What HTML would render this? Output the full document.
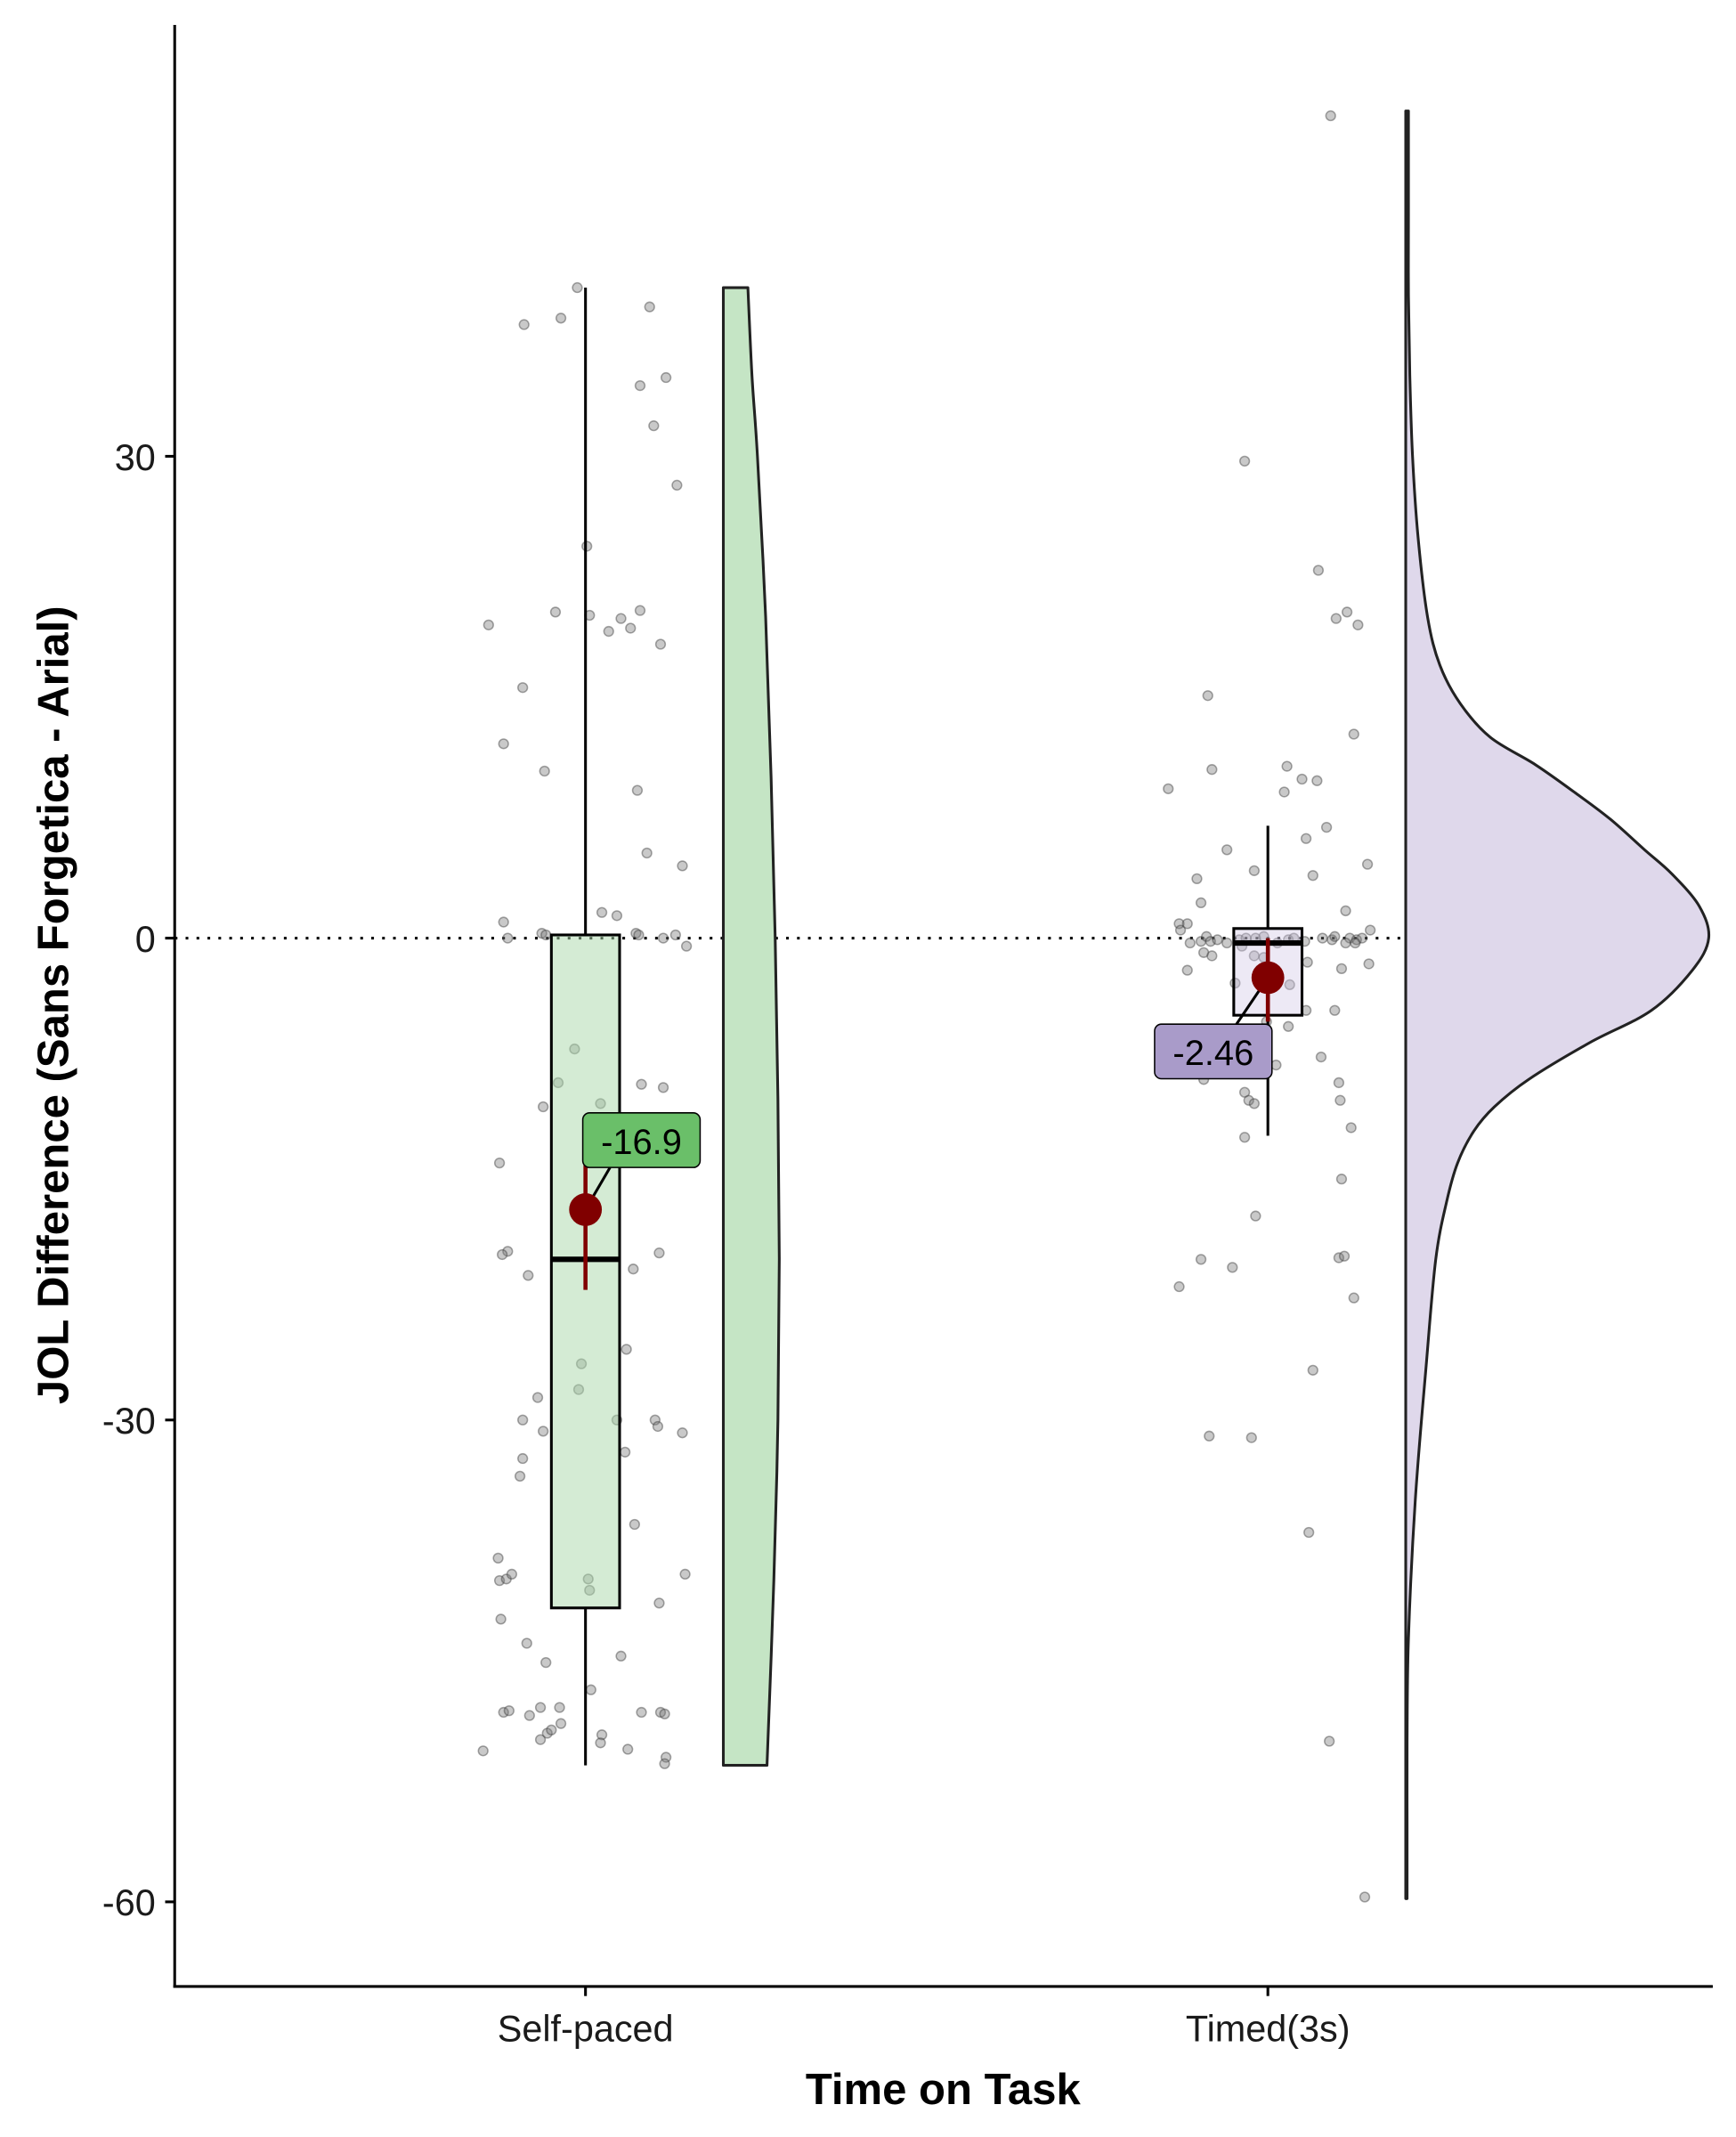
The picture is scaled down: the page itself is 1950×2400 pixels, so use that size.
<!DOCTYPE html>
<html><head><meta charset="utf-8"><style>
html,body{margin:0;padding:0;background:#fff}
svg{display:block}
text{font-family:"Liberation Sans",Arial,sans-serif}
</style></head><body>
<svg id="chart" width="1950" height="2400" viewBox="0 0 1272 1565" xmlns="http://www.w3.org/2000/svg">
<g id="g"></g>
</svg>
<script>
const categories = ["Self-paced","Timed(3s)"];
const yTicks = [30,0,-30,-60];
const spJitter = [-6,-45,-18,47,40,59,50,67,1,-71,-22,3,40,26,17,33,55,-46,-60,-30,38,45,71,-60,-57,-32,-29,12,23,37,39,57,66,74,-8,-20,-31,11,41,57,-63,-57,-61,-42,35,54,30,-3,-5,-35,-46,-31,23,29,51,53,71,-46,-48,36,-64,-63,-58,-54,2,3,73,-62,-43,-29,26,54,4,-60,-56,-33,-19,-41,55,58,41,-18,-28,-33,-25,12,11,31,59,58,-75];
const spValues = [40.5,38.2,38.6,39.3,34.4,34.9,31.9,28.2,24.4,19.5,20.3,20.1,20.4,19.9,19.1,19.3,18.3,15.6,12.1,10.4,9.2,5.3,4.5,1.0,0,0.3,0.2,1.6,1.4,0.3,0.2,0,0.2,-0.5,-6.9,-9.0,-10.5,-10.3,-9.1,-9.3,-14.0,-19.5,-19.7,-21.0,-20.6,-19.6,-25.6,-26.5,-28.1,-28.6,-30.0,-30.7,-30.0,-32.0,-30.0,-30.4,-30.8,-32.4,-33.5,-36.5,-38.6,-40.0,-39.9,-39.6,-39.9,-40.6,-39.6,-42.4,-43.9,-45.1,-44.7,-41.4,-46.8,-48.2,-48.1,-47.9,-47.9,-48.4,-48.2,-48.3,-48.2,-48.9,-49.5,-49.9,-49.3,-49.6,-50.1,-50.5,-51.0,-51.4,-50.6];
const tJitter = [46,-17,37,58,50,66,-44,-41,63,14,36,25,12,-73,43,-30,28,-52,-10,33,73,-49,-65,-64,-59,57,75,-57,-49,-45,-42,-37,-30,-21,-16,-9,-3,7,15,19,27,40,47,49,60,65,69,57,64,-47,-41,-19,-10,-3,-59,-24,16,29,54,74,-1,15,49,28,6,39,52,53,61,-47,-17,-14,-10,-17,54,-9,-49,-26,-65,52,56,63,33,-43,-12,30,45,71];
const tValues = [51.2,29.7,22.9,20.3,19.9,19.5,15.1,10.5,12.7,10.7,9.8,9.9,9.1,9.3,6.9,5.5,6.2,3.7,4.2,3.9,4.6,2.2,0.9,0.5,0.9,1.7,0.5,-0.3,-0.2,0.1,-0.2,-0.1,-0.3,-0.1,0,0,0.1,-0.3,-0.1,0,-0.2,0,-0.1,0.1,0,-0.1,0,-0.3,-0.3,-0.9,-1.1,-0.5,-1.1,-1.2,-2.0,-2.8,-2.9,-1.5,-1.9,-1.6,-5.2,-5.5,-4.5,-4.5,-7.9,-7.4,-9.0,-10.1,-11.8,-8.8,-9.6,-10.1,-10.3,-12.4,-15.0,-17.3,-20.0,-20.5,-21.7,-19.9,-19.8,-22.4,-26.9,-31.0,-31.1,-37.0,-50.0,-59.7];
const spBox = [-51.5,-41.7,-20.0,0.2,40.5];
const tBox = [-12.3,-4.8,-0.3,0.6,7.0];
const means = [-16.9,-2.46];
const ciLow = [-21.9,-5.2];
const ciHigh = [-14.1,0.0];
const meanLabels = ["-16.9","-2.46"];
const spViolinV = [40.5,35,30,20,10,0,-10,-20,-30,-40,-51.5];
const spViolinW = [18,21,25,31,35,38,40,41,40,37,32];
const tViolinV = [51.5,45,40,35,30,25,20,17,14.6,12.5,10.8,9,7.4,5.5,4,2,0,-2,-4.5,-6.5,-8.8,-10.5,-12,-14,-16.4,-20,-26.6,-35,-43.6,-50,-55,-59.8];
const tViolinW = [2,2,2,3,5,9,16,25,40,62,95,125,150,175,195,215,222,210,180,135,90,65,50,38,30,22,15,7,2,1,1,1];

const NS="http://www.w3.org/2000/svg";
const g=document.getElementById('g');
const y=v=>687 - v*353/30;
const catX=[429,929];
function mk(tag,attrs,parent){const e=document.createElementNS(NS,tag);for(const k in attrs)e.setAttribute(k,attrs[k]);(parent||g).appendChild(e);return e;}

let e=mk('line',{x1:128,x2:1255,y1:y(0),y2:y(0),stroke:'#000','stroke-width':2,'stroke-dasharray':'2,6'});



function violin(cx,vs,ws,fill,name){
  const P=vs.map((v,i)=>[cx+ws[i],y(v)]);
  let d='M'+cx+','+P[0][1]+' L'+P[0][0]+','+P[0][1];
  for(let i=0;i<P.length-1;i++){
    const p0=P[Math.max(0,i-1)],p1=P[i],p2=P[i+1],p3=P[Math.min(P.length-1,i+2)];
    const c1=[p1[0]+(p2[0]-p0[0])/6,p1[1]+(p2[1]-p0[1])/6];
    const c2=[p2[0]-(p3[0]-p1[0])/6,p2[1]-(p3[1]-p1[1])/6];
    d+=' C'+c1[0]+','+c1[1]+' '+c2[0]+','+c2[1]+' '+p2[0]+','+p2[1];
  }
  d+=' L'+cx+','+P[P.length-1][1]+' Z';
  const p=mk('path',{d:d,fill:fill,stroke:'#222','stroke-width':2,'stroke-linejoin':'round'});
  
  
}
violin(530,spViolinV,spViolinW,'#c5e5c5','violin-self-paced');
violin(1030,tViolinV,tViolinW,'#dfd8eb','violin-timed');

function pts(cx,dx,vals,name){
  for(let i=0;i<vals.length;i++){
    const c=mk('circle',{cx:cx+dx[i],cy:y(vals[i]),r:3.5,fill:'rgba(120,120,120,0.4)',stroke:'rgba(60,60,60,0.45)','stroke-width':1});
    
    
  }
}
pts(catX[0],spJitter,spValues,'point-self-paced');
pts(catX[1],tJitter,tValues,'point-timed');

function box(cx,b,fill,name){
  const gg=mk('g',{});
  
  
  mk('line',{x1:cx,x2:cx,y1:y(b[0]),y2:y(b[1]),stroke:'#000','stroke-width':2},gg);
  mk('line',{x1:cx,x2:cx,y1:y(b[3]),y2:y(b[4]),stroke:'#000','stroke-width':2},gg);
  mk('rect',{x:cx-25,y:y(b[3]),width:50,height:y(b[1])-y(b[3]),fill:fill,stroke:'#000','stroke-width':2},gg);
  mk('line',{x1:cx-25,x2:cx+25,y1:y(b[2]),y2:y(b[2]),stroke:'#000','stroke-width':4},gg);
}
box(catX[0],spBox,'rgba(170,215,170,0.5)','boxplot-self-paced');
box(catX[1],tBox,'rgba(210,200,230,0.4)','boxplot-timed');

const lblPos=[[427,815],[846,750]];
const lblFill=['#6abf69','#a99bc9'];
for(let i=0;i<2;i++){
  const cx=catX[i];
  let l=mk('line',{x1:cx,x2:cx,y1:y(ciLow[i]),y2:y(ciHigh[i]),stroke:'#800000','stroke-width':3});
  
  
  const [lx,ly]=lblPos[i];
  const ax = i===0 ? lx+20 : lx+60;
  const ay = i===0 ? ly+40 : ly;
  mk('line',{x1:cx,y1:y(means[i]),x2:ax,y2:ay,stroke:'#000','stroke-width':2});
  let c=mk('circle',{cx:cx,cy:y(means[i]),r:12,fill:'#800000'});
  
  
  let r=mk('rect',{x:lx,y:ly,width:86,height:40,rx:5,fill:lblFill[i],stroke:'#000','stroke-width':1});
  
  
  let t=mk('text',{x:lx+43,y:ly+30,'text-anchor':'middle','font-size':26,fill:'#000'});
  t.textContent=meanLabels[i];
  
  
}

e=mk('line',{x1:128,x2:128,y1:18,y2:1456,stroke:'#000','stroke-width':2});


e=mk('line',{x1:127,x2:1255,y1:1455,y2:1455,stroke:'#000','stroke-width':2});


yTicks.forEach(v=>{
  mk('line',{x1:121,x2:128,y1:y(v),y2:y(v),stroke:'#000','stroke-width':2});
  const t=mk('text',{x:114,y:y(v)+10,'text-anchor':'end','font-size':27,fill:'#1a1a1a'});
  t.textContent=v;
  
  
});
categories.forEach((c,i)=>{
  mk('line',{x1:catX[i],x2:catX[i],y1:1455,y2:1462,stroke:'#000','stroke-width':2});
  const t=mk('text',{x:catX[i],y:1495,'text-anchor':'middle','font-size':27,fill:'#1a1a1a'});
  t.textContent=c;
  
  
});
</script>
<svg style="position:absolute;left:0;top:0" width="1950" height="2400" viewBox="0 0 1272 1565">
<text x="691" y="1541" text-anchor="middle" font-size="32" font-weight="bold" font-family="Liberation Sans, sans-serif">Time on Task</text>
<text transform="translate(50,736) rotate(-90)" text-anchor="middle" font-size="32" font-weight="bold" font-family="Liberation Sans, sans-serif">JOL Difference (Sans Forgetica - Arial)</text>
</svg>
</body></html>
